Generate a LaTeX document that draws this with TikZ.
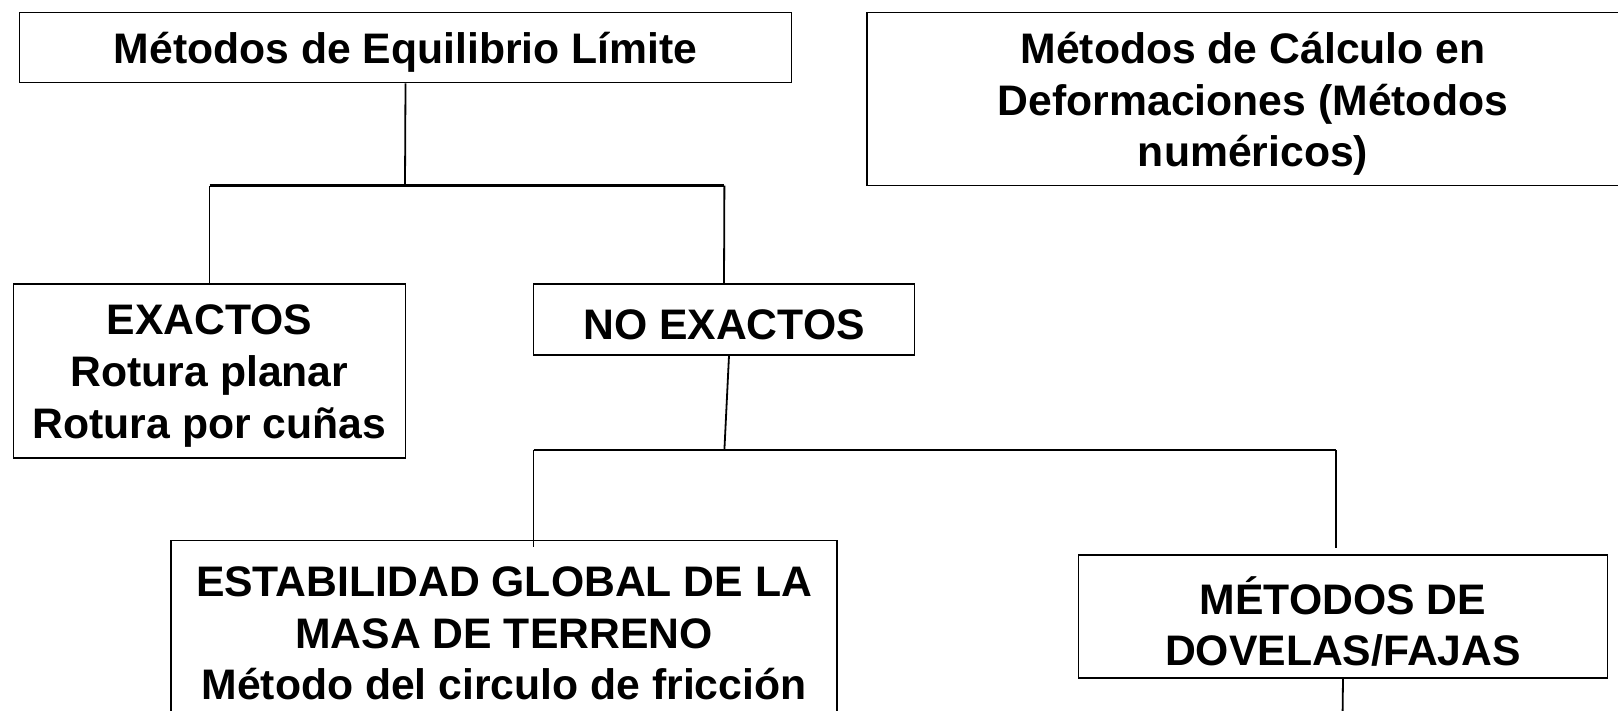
\documentclass[tikz,border=0pt]{standalone}
\usepackage{fontspec}
\setmainfont{Liberation Sans}
\begin{document}
\begin{tikzpicture}[x=1pt,y=-1pt,
  box/.style={draw=black,line width=1.6pt,rectangle,inner sep=0pt},
  txt/.style={inner sep=0pt,align=center,yshift=-5pt,
    font=\fontsize{42.7}{51.6}\selectfont\bfseries},
  conn/.style={draw=black,line width=1.8pt},
  hconn/.style={draw=black,line width=2.6pt}]
\useasboundingbox (0,0) rectangle (1618,710);
\fill[white] (0,0) rectangle (1618,710);
\node[box,minimum width=772pt,minimum height=70pt] (eq) at (405.5,47.5) {};
\node[txt] (eqt) at (eq.center) {Métodos de Equilibrio Límite};
\node[box,minimum width=772pt,minimum height=173pt] (def) at (1253,99) {};
\node[txt] (deft) at (def.center) {Métodos de Cálculo en\\Deformaciones (Métodos\\numéricos)};
\node[box,minimum width=392pt,minimum height=174pt] (exa) at (209.5,371) {};
\node[txt] (exat) at (exa.center) {EXACTOS\\Rotura planar\\Rotura por cuñas};
\node[box,minimum width=381pt,minimum height=71pt] (noex) at (724,319.4) {};
\node[txt] (noext) at (noex.center) {NO EXACTOS};
\node[box,minimum width=666pt,minimum height=176pt] (est) at (504,628.5) {};
\node[txt] (estt) at (est.center) {ESTABILIDAD GLOBAL DE LA\\MASA DE TERRENO\\Método del circulo de fricción};
\node[box,minimum width=529pt,minimum height=123pt] (dov) at (1343,616.6) {};
\node[txt] (dovt) at (dov.center) {MÉTODOS DE\\DOVELAS/FAJAS};
% junctions
\coordinate (j1) at (405,185.7);
\coordinate (j1l) at (209.5,185.7);
\coordinate (j1r) at (724.4,185.7);
\coordinate (j2) at (724.4,449.9);
\coordinate (j2l) at (533.5,449.9);
\coordinate (j2r) at (1336.3,449.9);
\coordinate (e2l) at (533.5,547);
\coordinate (e2r) at (1336.3,548);
\coordinate (e3) at (1342.5,720);
\draw[conn] (eq.south) -- (j1);
\draw[hconn] (j1l) -- (j1r);
\draw[conn] (j1l) -- (exa.north);
\draw[conn] (j1r) -- (noex.north);
\draw[conn] ([xshift=5pt]noex.south) -- (j2);
\draw[hconn] (j2l) -- (j2r);
\draw[conn] (j2l) -- (e2l);
\draw[conn] (j2r) -- (e2r);
\draw[conn] (dov.south) -- (e3);
\end{tikzpicture}
\end{document}
